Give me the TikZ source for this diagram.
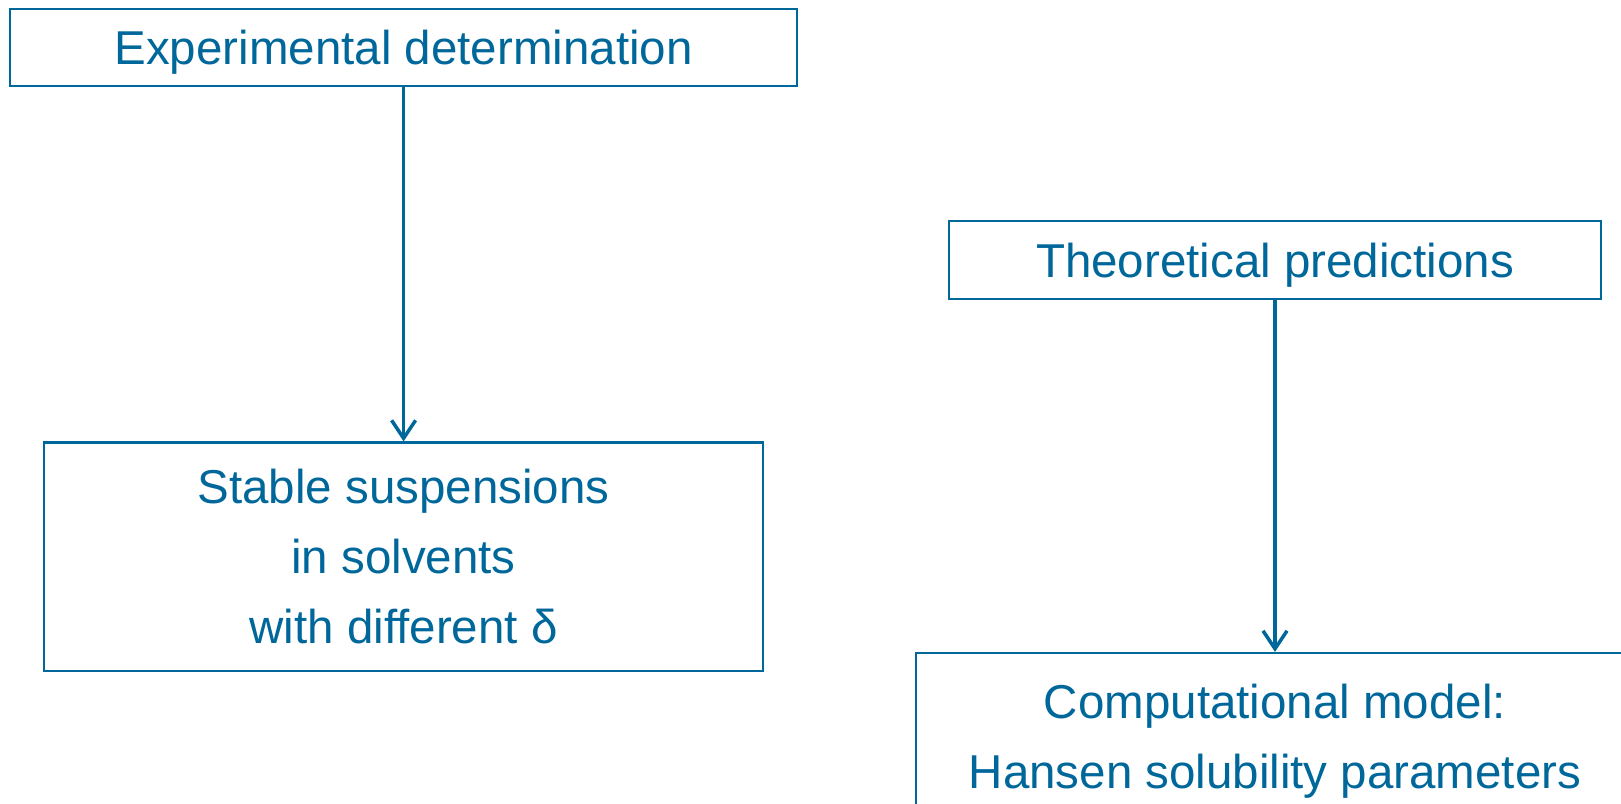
\documentclass[tikz,border=0pt]{standalone}
\usepackage{fontspec}
\setmainfont{Liberation Sans}
\usetikzlibrary{arrows.meta}
\definecolor{flowblue}{RGB}{0,103,155}
\begin{document}
\begin{tikzpicture}[x=1pt,y=-1pt,
  box/.style={draw=flowblue, line width=2.2pt, text=flowblue, align=center,
    inner sep=0pt, font=\fontsize{47.5}{70}\selectfont},
  oneline/.style={text depth=0pt},
  flow/.style={draw=flowblue, line width=3.5pt,
    -{Straight Barb[length=18pt,width=24pt]}}]
\useasboundingbox (0,0) rectangle (1621,803);
\clip (0,0) rectangle (1621,803);

% experimental branch
\node[box, oneline, minimum width=787pt, minimum height=76.5pt] (exp) at (403.6,47.5)
  {Experimental determination};
\node[box, minimum width=718.5pt, minimum height=228.5pt] (susp) at (403.6,556.8)
  {Stable suspensions\\in solvents\\with different δ};

% theoretical branch
\node[box, oneline, minimum width=652pt, minimum height=78pt] (theo) at (1275,260)
  {Theoretical predictions};
\node[box, minimum width=718pt, minimum height=176pt] (comp) at (1275,741)
  {Computational model:\\Hansen solubility parameters};

\draw[flow] (exp) -- (susp);
\draw[flow] (theo) -- (comp);
\end{tikzpicture}
\end{document}
